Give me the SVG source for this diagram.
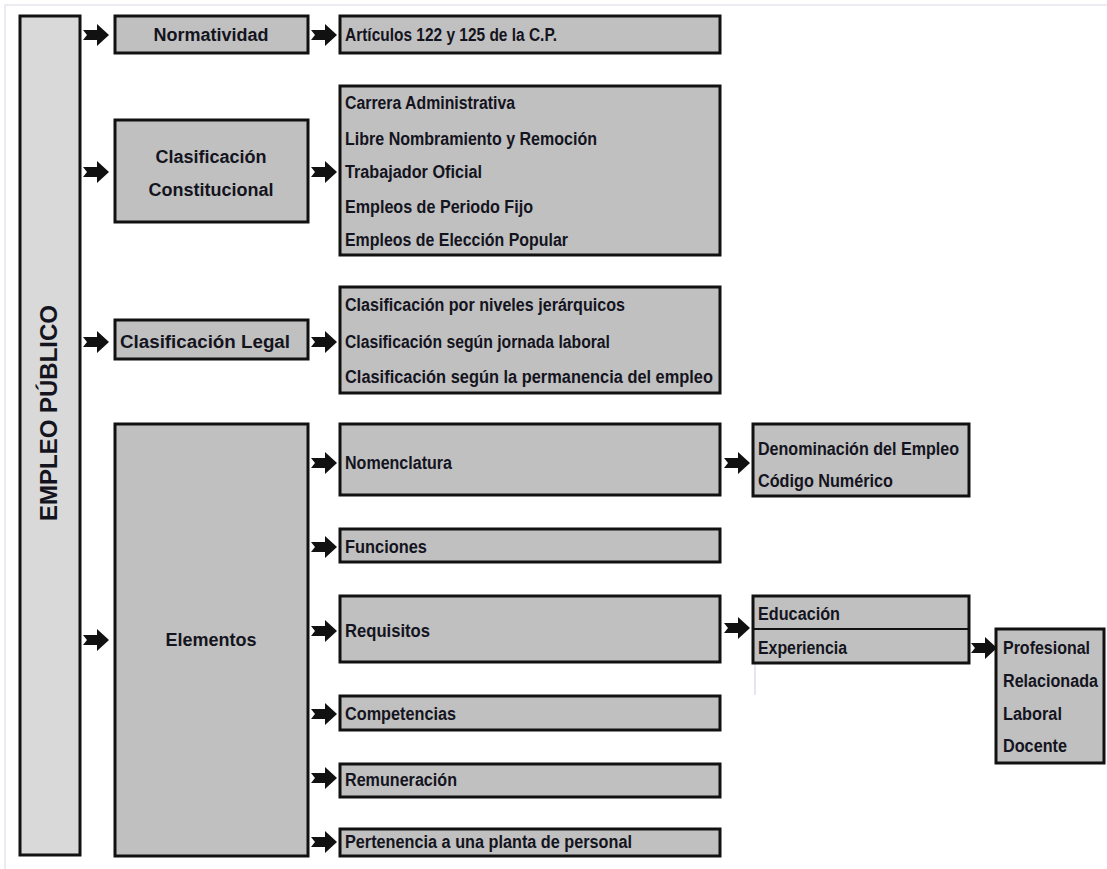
<svg xmlns="http://www.w3.org/2000/svg" width="1107" height="869" viewBox="0 0 1107 869">
<style>
.bx{fill:#c0c0c0;stroke:#111;stroke-width:3}
.bxl{fill:#d9d9d9;stroke:#111;stroke-width:3}
.t{font-family:"Liberation Sans",Arial,sans-serif;font-weight:bold;font-size:18px;fill:#141420}
.n{font-family:"Liberation Sans Narrow","Liberation Sans",Arial,sans-serif;font-weight:bold;font-size:18px;fill:#141420}
.ar{fill:#111}
</style>
<defs>
<path id="arw" d="M-13,-5 L1,-5 L1,-11 L13,0 L1,11 L1,5 L-13,5 L-9,0 Z"/>
</defs>
<rect x="0" y="0" width="1107" height="869" fill="#fff"/>
<path d="M5,869 L5,5 L1107,5" fill="none" stroke="#e4e6ee" stroke-width="1.5"/>
<line x1="755" y1="664" x2="755" y2="695" stroke="#c8cce0" stroke-width="1"/>

<g id="empleo">
<rect class="bxl" x="20" y="16" width="60" height="839"/>
<text class="t" transform="translate(57,413) rotate(-90)" text-anchor="middle" style="font-size:24px">EMPLEO PÚBLICO</text>
</g>
<g id="normatividad">
<rect class="bx" x="115" y="16" width="193" height="37"/>
<text class="t" x="211" y="41" text-anchor="middle">Normatividad</text>
</g>
<g id="articulos">
<rect class="bx" x="340" y="16" width="380" height="37"/>
<text class="n" x="345" y="41" textLength="212" lengthAdjust="spacingAndGlyphs">Artículos 122 y 125 de la C.P.</text>
</g>
<g id="clas-const">
<rect class="bx" x="115" y="120" width="193" height="102"/>
<text class="t" x="211" y="163" text-anchor="middle">Clasificación</text>
<text class="t" x="211" y="196" text-anchor="middle">Constitucional</text>
</g>
<g id="tipos-const">
<rect class="bx" x="340" y="86" width="380" height="169"/>
<text class="n" x="345" y="109" textLength="170" lengthAdjust="spacingAndGlyphs">Carrera Administrativa</text>
<text class="n" x="345" y="145" textLength="252" lengthAdjust="spacingAndGlyphs">Libre Nombramiento y Remoción</text>
<text class="n" x="345" y="178" textLength="137" lengthAdjust="spacingAndGlyphs">Trabajador Oficial</text>
<text class="n" x="345" y="213" textLength="188" lengthAdjust="spacingAndGlyphs">Empleos de Periodo Fijo</text>
<text class="n" x="345" y="246" textLength="223" lengthAdjust="spacingAndGlyphs">Empleos de Elección Popular</text>
</g>
<g id="clas-legal">
<rect class="bx" x="115" y="320" width="193" height="39"/>
<text class="t" x="120" y="348" textLength="170" lengthAdjust="spacingAndGlyphs">Clasificación Legal</text>
</g>
<g id="tipos-legal">
<rect class="bx" x="340" y="287" width="380" height="106"/>
<text class="n" x="345" y="311" textLength="280" lengthAdjust="spacingAndGlyphs">Clasificación por niveles jerárquicos</text>
<text class="n" x="345" y="348" textLength="265" lengthAdjust="spacingAndGlyphs">Clasificación según jornada laboral</text>
<text class="n" x="345" y="383" textLength="368" lengthAdjust="spacingAndGlyphs">Clasificación según la permanencia del empleo</text>
</g>
<g id="elementos">
<rect class="bx" x="115" y="424" width="193" height="432"/>
<text class="t" x="211" y="646" text-anchor="middle">Elementos</text>
</g>
<g id="nomenclatura">
<rect class="bx" x="340" y="424" width="380" height="71"/>
<text class="n" x="345" y="469" textLength="107" lengthAdjust="spacingAndGlyphs">Nomenclatura</text>
</g>
<g id="funciones">
<rect class="bx" x="340" y="529" width="380" height="33"/>
<text class="n" x="345" y="553" textLength="82" lengthAdjust="spacingAndGlyphs">Funciones</text>
</g>
<g id="requisitos">
<rect class="bx" x="340" y="596" width="380" height="66"/>
<text class="n" x="345" y="637" textLength="85" lengthAdjust="spacingAndGlyphs">Requisitos</text>
</g>
<g id="competencias">
<rect class="bx" x="340" y="696" width="380" height="34"/>
<text class="n" x="345" y="720" textLength="111" lengthAdjust="spacingAndGlyphs">Competencias</text>
</g>
<g id="remuneracion">
<rect class="bx" x="340" y="764" width="380" height="33"/>
<text class="n" x="345" y="786" textLength="112" lengthAdjust="spacingAndGlyphs">Remuneración</text>
</g>
<g id="pertenencia">
<rect class="bx" x="340" y="829" width="380" height="27"/>
<text class="n" x="345" y="848" textLength="287" lengthAdjust="spacingAndGlyphs">Pertenencia a una planta de personal</text>
</g>
<g id="nomen-detalle">
<rect class="bx" x="753" y="424" width="216" height="72"/>
<text class="n" x="758" y="455" textLength="201" lengthAdjust="spacingAndGlyphs">Denominación del Empleo</text>
<text class="n" x="758" y="487" textLength="135" lengthAdjust="spacingAndGlyphs">Código Numérico</text>
</g>
<g id="req-detalle">
<rect class="bx" x="753" y="596" width="216" height="67"/>
<line x1="753" y1="629" x2="969" y2="629" stroke="#111" stroke-width="2"/>
<text class="n" x="758" y="620" textLength="82" lengthAdjust="spacingAndGlyphs">Educación</text>
<text class="n" x="758" y="654" textLength="89" lengthAdjust="spacingAndGlyphs">Experiencia</text>
</g>
<g id="experiencia-tipos">
<rect class="bx" x="996" y="629" width="108" height="134"/>
<text class="n" x="1003" y="654" textLength="87" lengthAdjust="spacingAndGlyphs">Profesional</text>
<text class="n" x="1003" y="687" textLength="95" lengthAdjust="spacingAndGlyphs">Relacionada</text>
<text class="n" x="1003" y="720" textLength="59" lengthAdjust="spacingAndGlyphs">Laboral</text>
<text class="n" x="1003" y="752" textLength="64" lengthAdjust="spacingAndGlyphs">Docente</text>
</g>

<g id="connectors" class="ar">
<use href="#arw" x="96" y="35"/>
<use href="#arw" x="96" y="172"/>
<use href="#arw" x="96" y="342"/>
<use href="#arw" x="96" y="640"/>
<use href="#arw" x="324" y="35"/>
<use href="#arw" x="324" y="172"/>
<use href="#arw" x="324" y="342"/>
<use href="#arw" x="324" y="463"/>
<use href="#arw" x="324" y="547"/>
<use href="#arw" x="324" y="631"/>
<use href="#arw" x="324" y="714"/>
<use href="#arw" x="324" y="778"/>
<use href="#arw" x="324" y="842"/>
<use href="#arw" x="737" y="463"/>
<use href="#arw" x="737" y="628"/>
<use href="#arw" x="984" y="648"/>
</g>
</svg>
